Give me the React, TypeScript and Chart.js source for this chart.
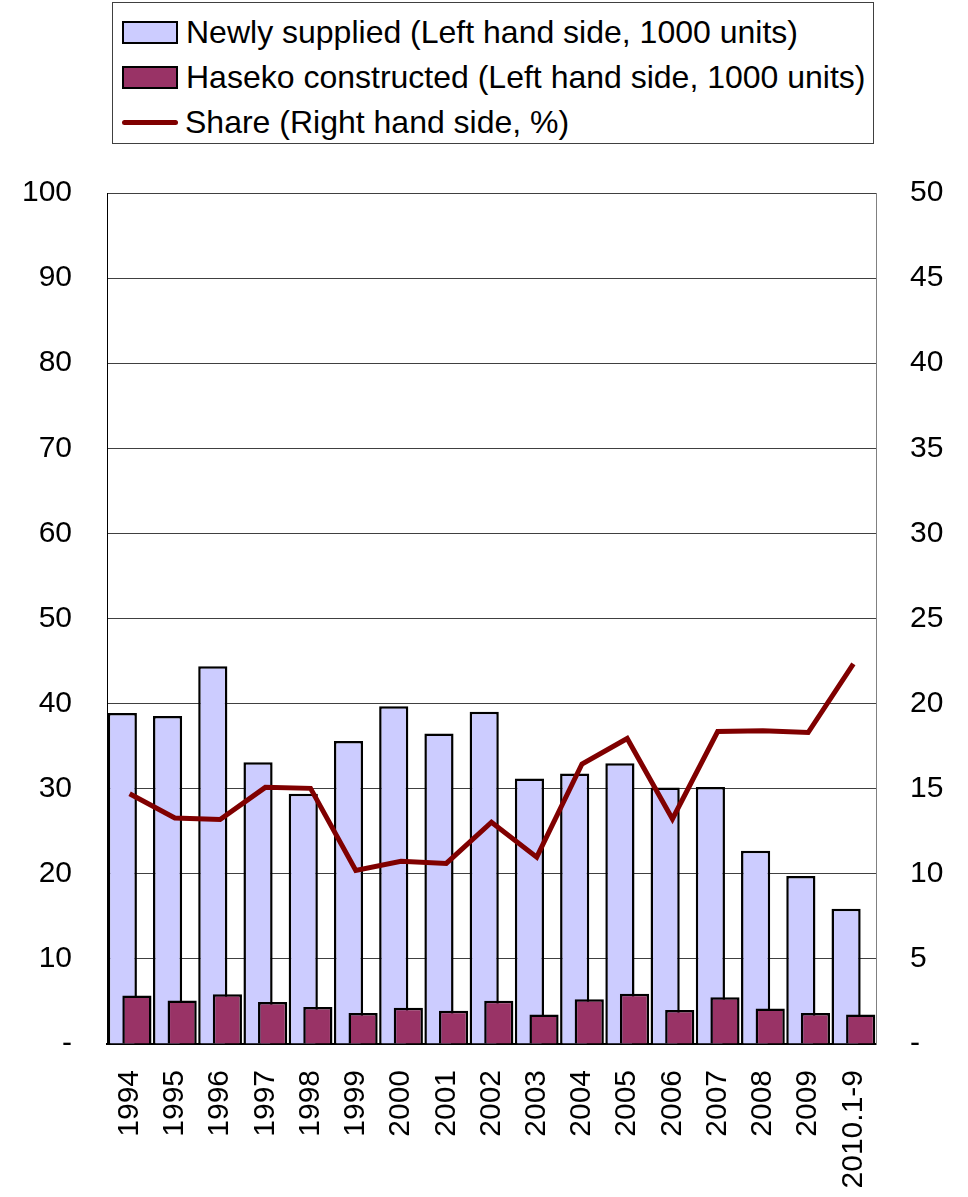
import React, { useEffect, useRef } from 'react';
import { Chart, registerables } from 'chart.js';

Chart.register(...registerables);

const categories = ['1994', '1995', '1996', '1997', '1998', '1999', '2000', '2001', '2002', '2003', '2004', '2005', '2006', '2007', '2008', '2009', '2010.1-9'];
const newlySupplied = [38.9, 38.55, 44.4, 33.1, 29.4, 35.6, 39.7, 36.5, 39.05, 31.2, 31.8, 33.0, 30.15, 30.2, 22.7, 19.75, 15.9];
const hasekoConstructed = [5.7, 5.1, 5.85, 4.95, 4.35, 3.65, 4.25, 3.9, 5.08, 3.48, 5.25, 5.9, 4.0, 5.5, 4.18, 3.65, 3.48];
const share = [14.7, 13.28, 13.19, 15.08, 15.02, 10.2, 10.74, 10.61, 13.03, 10.98, 16.45, 17.95, 13.22, 18.36, 18.4, 18.3, 22.33];

const legendLabels = [
  'Newly supplied (Left hand side, 1000 units)',
  'Haseko constructed (Left hand side, 1000 units)',
  'Share (Right hand side, %)',
];

const FONT = '"Liberation Sans", Arial, Helvetica, sans-serif';
const NEWLY_COLOR = '#CCCCFF';
const HASEKO_COLOR = '#993366';
const LINE_COLOR = '#800000';

const drawOrderPlugin = {
  id: 'drawOrder',
  beforeDatasetsDraw(chart: any) {
    for (let i = 0; i < chart.data.datasets.length; i++) {
      const meta = chart.getDatasetMeta(i);
      if (meta.visible) meta.controller.draw();
    }
    return false;
  },
};

export default function App() {
  const ref = useRef<HTMLCanvasElement>(null);

  useEffect(() => {
    const chart = new Chart(ref.current as HTMLCanvasElement, {
      type: 'bar',
      data: {
        labels: categories,
        datasets: [
          {
            type: 'bar',
            label: legendLabels[0],
            data: newlySupplied,
            backgroundColor: NEWLY_COLOR,
            borderColor: '#000',
            borderWidth: 2.5,
            categoryPercentage: 0.645,
            barPercentage: 2.0,
            yAxisID: 'y',
          },
          {
            type: 'bar',
            label: legendLabels[1],
            data: hasekoConstructed,
            backgroundColor: HASEKO_COLOR,
            borderColor: '#000',
            borderWidth: 2.5,
            categoryPercentage: 0.645,
            barPercentage: 2.0,
            yAxisID: 'y',
          },
          {
            type: 'line',
            label: legendLabels[2],
            data: share,
            borderColor: LINE_COLOR,
            backgroundColor: LINE_COLOR,
            borderWidth: 5,
            pointRadius: 0,
            tension: 0,
            fill: false,
            yAxisID: 'y2',
          },
        ] as any,
      },
      options: {
        responsive: false,
        animation: false,
        devicePixelRatio: 1,
        layout: { padding: { top: 193, left: 0, right: 0, bottom: 0 } },
        plugins: {
          legend: { display: false },
          tooltip: { enabled: false },
        },
        scales: {
          x: {
            type: 'category',
            offset: true,
            grid: { display: false, drawTicks: false },
            border: { display: true, color: '#000', width: 2 },
            ticks: {
              color: '#000',
              font: { family: FONT, size: 30 },
              minRotation: 90,
              maxRotation: 90,
              autoSkip: false,
              padding: 26,
            },
            afterFit: (s: any) => { s.height = 153; },
          },
          y: {
            position: 'left',
            min: 0,
            max: 100,
            grid: { color: '#404040', lineWidth: 1, drawTicks: false },
            border: { display: true, color: '#000', width: 1 },
            ticks: {
              stepSize: 10,
              color: '#000',
              font: { family: FONT, size: 30 },
              padding: 35,
              callback: (v: any) => (v === 0 ? '-' : String(v)),
            },
            afterFit: (s: any) => { s.width = 107; },
          },
          y2: {
            position: 'right',
            min: 0,
            max: 50,
            grid: { display: false, drawOnChartArea: false, drawTicks: false },
            border: { display: true, color: '#808080', width: 1 },
            ticks: {
              stepSize: 5,
              color: '#000',
              font: { family: FONT, size: 30 },
              padding: 34,
              callback: (v: any) => (v === 0 ? '-' : String(v)),
            },
            afterFit: (s: any) => { s.width = 92; },
          },
        },
      } as any,
      plugins: [drawOrderPlugin as any],
    });
    return () => chart.destroy();
  }, []);

  const rowStyle = (center: number): React.CSSProperties => ({
    position: 'absolute',
    left: 0,
    top: center - 2 - 22,
    height: 44,
    display: 'flex',
    alignItems: 'center',
    whiteSpace: 'nowrap',
  });
  const textStyle: React.CSSProperties = {
    fontFamily: FONT,
    fontSize: 32,
    color: '#000',
    marginLeft: 8,
    lineHeight: '44px',
  };

  return (
    <div style={{ position: 'absolute', left: 0, top: 0, width: 968, height: 1197, background: '#fff' }}>
      <canvas ref={ref} width={968} height={1197} style={{ position: 'absolute', left: 0, top: 0 }} />
      <div
        style={{
          position: 'absolute',
          left: 112,
          top: 2,
          width: 760,
          height: 140,
          border: '1px solid #404040',
          background: '#fff',
        }}
      >
        <div style={rowStyle(31)}>
          <div style={{ marginLeft: 9, width: 52, height: 19, background: NEWLY_COLOR, border: '2px solid #000' }} />
          <span style={textStyle}>{legendLabels[0]}</span>
        </div>
        <div style={rowStyle(76)}>
          <div style={{ marginLeft: 9, width: 52, height: 19, background: HASEKO_COLOR, border: '2px solid #000' }} />
          <span style={textStyle}>{legendLabels[1]}</span>
        </div>
        <div style={rowStyle(121)}>
          <div style={{ marginLeft: 9, width: 56, height: 5, background: LINE_COLOR, borderRadius: 3 }} />
          <span style={{ ...textStyle, marginLeft: 7 }}>{legendLabels[2]}</span>
        </div>
      </div>
    </div>
  );
}
